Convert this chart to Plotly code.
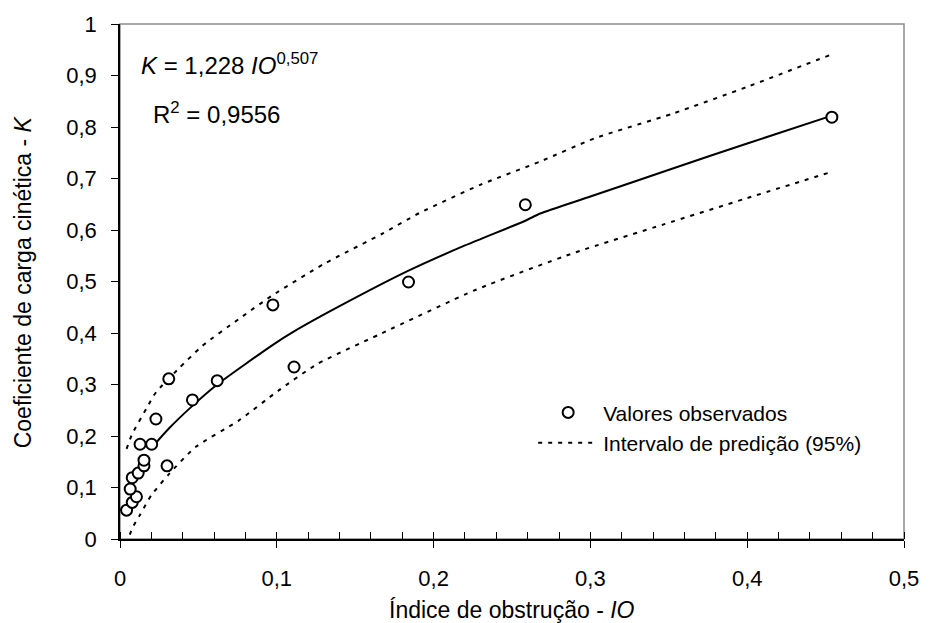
import plotly.graph_objects as go

# Observed values (Índice de obstrução IO, coeficiente K)
obs_io = [0.0042, 0.0078, 0.0105, 0.0065, 0.0078, 0.0116, 0.0153, 0.0153, 0.0128, 0.0202,
          0.0300, 0.0229, 0.0311, 0.0462, 0.0620, 0.0975, 0.1110, 0.1840, 0.2585, 0.4540]
obs_k = [0.056, 0.071, 0.082, 0.097, 0.119, 0.128, 0.142, 0.153, 0.184, 0.184,
         0.142, 0.233, 0.311, 0.270, 0.3075, 0.4545, 0.334, 0.499, 0.649, 0.819]

# Fitted curve K = 1,228 IO^0,507
fit_io = [0.021, 0.031, 0.046, 0.062, 0.0975, 0.111, 0.14, 0.184, 0.22, 0.2585, 0.268, 0.30, 0.353, 0.40, 0.454]
fit_k = [0.180, 0.214, 0.258, 0.300, 0.377, 0.403, 0.452, 0.521, 0.570, 0.618, 0.632, 0.665, 0.720, 0.768, 0.822]

# 95% prediction interval
up_io = [0.0042, 0.0078, 0.0168, 0.023, 0.0378, 0.0525, 0.0757, 0.0967, 0.13, 0.168, 0.191, 0.23, 0.268, 0.3027, 0.353, 0.40, 0.453]
up_k = [0.175, 0.204, 0.253, 0.285, 0.332, 0.375, 0.427, 0.472, 0.534, 0.594, 0.633, 0.688, 0.733, 0.778, 0.8265, 0.878, 0.940]
lo_io = [0.0042, 0.0078, 0.0126, 0.020, 0.0315, 0.0484, 0.0757, 0.101, 0.126, 0.166, 0.227, 0.290, 0.3468, 0.40, 0.454]
lo_k = [-0.010, 0.021, 0.046, 0.085, 0.127, 0.179, 0.230, 0.288, 0.340, 0.398, 0.484, 0.556, 0.611, 0.662, 0.713]

x_ticks = [0, 0.1, 0.2, 0.3, 0.4, 0.5]
y_ticks = [0, 0.1, 0.2, 0.3, 0.4, 0.5, 0.6, 0.7, 0.8, 0.9, 1]

FONT = "Liberation Sans, Arial, sans-serif"
DOT = "4px,6px"

fig = go.Figure()
fig.add_trace(go.Scatter(x=up_io, y=up_k, mode="lines", name="Intervalo de predição (95%)",
                         legendgroup="pi", legendrank=2,
                         line=dict(color="black", width=2, dash=DOT, shape="spline", smoothing=0.6)))
fig.add_trace(go.Scatter(x=lo_io, y=lo_k, mode="lines", name="Intervalo de predição (95%)",
                         legendgroup="pi", showlegend=False, legendrank=3,
                         line=dict(color="black", width=2, dash=DOT, shape="spline", smoothing=0.6)))
fig.add_trace(go.Scatter(x=fit_io, y=fit_k, mode="lines", showlegend=False,
                         line=dict(color="black", width=2, shape="spline", smoothing=0.6)))
fig.add_trace(go.Scatter(x=obs_io, y=obs_k, mode="markers", name="Valores observados", legendrank=1,
                         marker=dict(symbol="circle", size=11, color="white",
                                     line=dict(color="black", width=2))))

axis_common = dict(showgrid=False, zeroline=False, showline=True, linecolor="black", linewidth=1.5,
                   ticks="outside", ticklen=7, tickwidth=1.2, tickcolor="black",
                   tickfont=dict(family=FONT, size=22, color="black"))

fig.update_layout(
    width=931, height=623,
    margin=dict(l=120, r=18, t=22, b=84),
    plot_bgcolor="white", paper_bgcolor="white",
    separators=", ",
    font=dict(family=FONT, color="black"),
    xaxis=dict(range=[0, 0.5], tickvals=x_ticks, ticklabelstandoff=12,
               minor=dict(dtick=0.02, ticks="inside", ticklen=7, tickcolor="black", tickwidth=1.2),
               **axis_common),
    xaxis2=dict(overlaying="x", matches="x", range=[0, 0.5], tickvals=x_ticks, ticks="inside",
                ticklen=7, tickwidth=1.2, tickcolor="black", showticklabels=False,
                showline=False, showgrid=False, zeroline=False, side="bottom"),
    yaxis=dict(range=[0, 1], tickvals=y_ticks, ticklabelstandoff=10, **axis_common),
    legend=dict(x=0.527, y=0.285, xanchor="left", yanchor="top", bgcolor="rgba(0,0,0,0)",
                font=dict(family=FONT, size=21, color="black"), tracegroupgap=0,
                itemwidth=60, traceorder="normal"),
    shapes=[dict(type="rect", xref="paper", yref="paper", x0=0, x1=1, y0=0, y1=1,
                 line=dict(color="#8c8c8c", width=1.5), layer="below")],
    annotations=[
        dict(text="<i>K</i> = 1,228 <i>IO</i><sup>0,507</sup>", xref="paper", yref="paper",
             x=0.024, y=0.923, xanchor="left", yanchor="middle", showarrow=False,
             font=dict(family=FONT, size=24, color="black")),
        dict(text="R<sup>2</sup> = 0,9556", xref="paper", yref="paper",
             x=0.039, y=0.827, xanchor="left", yanchor="middle", showarrow=False,
             font=dict(family=FONT, size=24, color="black")),
        dict(text="Índice de obstrução - <i>IO</i>", xref="paper", yref="paper",
             x=0.5, y=-0.137, xanchor="center", yanchor="middle", showarrow=False,
             font=dict(family=FONT, size=23, color="black")),
        dict(text="Coeficiente de carga cinética - <i>K</i>", xref="paper", yref="paper",
             x=-0.124, y=0.5, xanchor="center", yanchor="middle", showarrow=False, textangle=-90,
             font=dict(family=FONT, size=23, color="black")),
    ],
)

fig.write_html("out.html")
